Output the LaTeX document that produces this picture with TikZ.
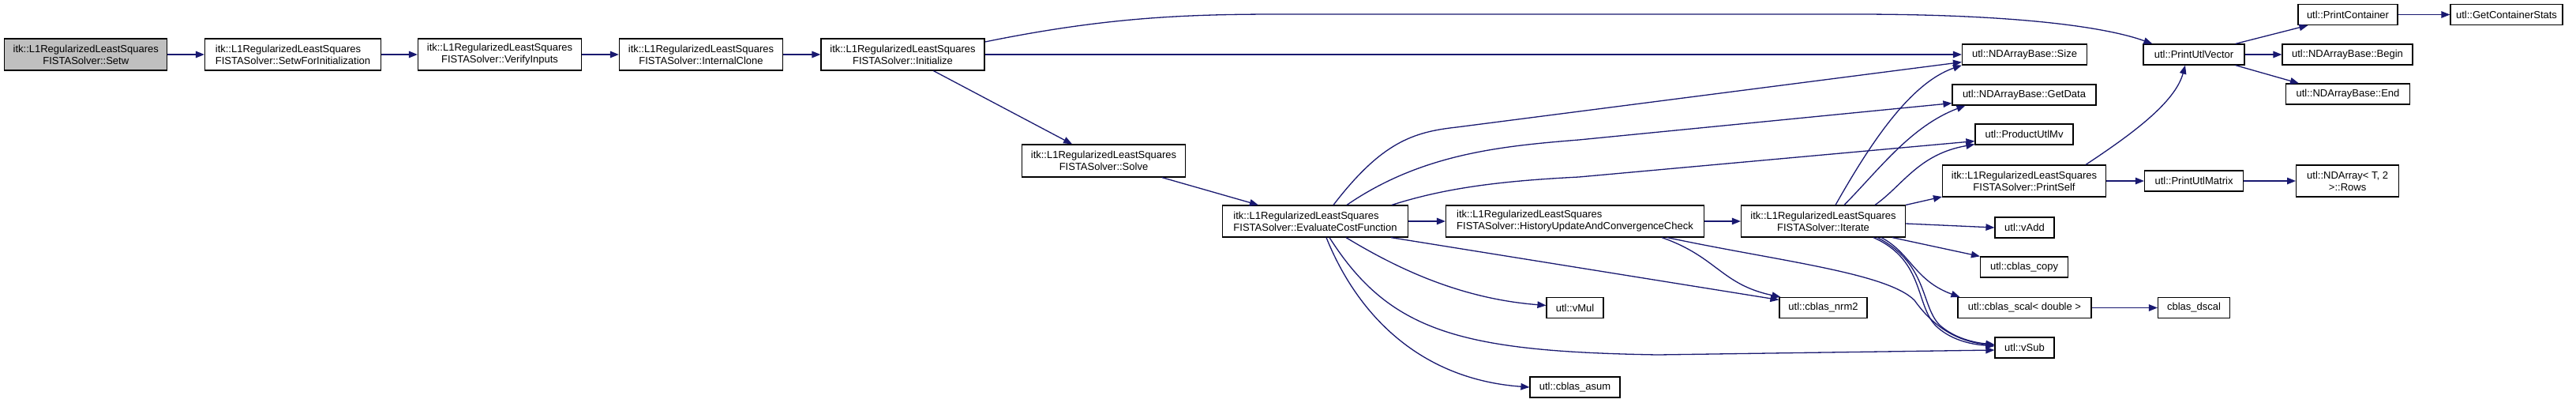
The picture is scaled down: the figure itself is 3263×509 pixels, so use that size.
\documentclass[tikz,border=0pt]{standalone}
\usepackage{fontspec}
\setmainfont{Liberation Sans}
\usetikzlibrary{arrows.meta}
\definecolor{edgeblue}{HTML}{191970}
\definecolor{startgray}{HTML}{BFBFBF}
\tikzset{
  fn/.style={draw=black, line width=1.2pt, fill=white, inner sep=0pt, align=center,
    font=\fontsize{13}{15}\selectfont, minimum height=26pt},
  fn2/.style={fn, minimum height=40pt},
  fnl/.style={fn2, align=left},
  call/.style={draw=edgeblue, line width=1.3pt, -{Triangle[length=11pt,width=8.5pt]}},
}
\begin{document}
\begin{tikzpicture}[x=1pt,y=-1pt]
\useasboundingbox (0,0) rectangle (3263,509);
% main chain
\node[fn2, fill=startgray, minimum width=206pt] (setw) at (108.8,69) {itk::L1RegularizedLeastSquares\\FISTASolver::Setw};
\node[fnl, minimum width=223pt] (sfi) at (371,69) {itk::L1RegularizedLeastSquares\\FISTASolver::SetwForInitialization};
\node[fn2, minimum width=207pt] (vi) at (633,69) {itk::L1RegularizedLeastSquares\\FISTASolver::VerifyInputs};
\node[fn2, minimum width=207pt] (ic) at (888,69) {itk::L1RegularizedLeastSquares\\FISTASolver::InternalClone};
\node[fn2, minimum width=207pt] (init) at (1143.5,69) {itk::L1RegularizedLeastSquares\\FISTASolver::Initialize};
\node[fn2, minimum width=207pt, minimum height=41pt] (solve) at (1398,203.5) {itk::L1RegularizedLeastSquares\\FISTASolver::Solve};
\node[fnl, minimum width=235pt] (ecf) at (1666,280) {itk::L1RegularizedLeastSquares\\FISTASolver::EvaluateCostFunction};
\node[fnl, minimum width=327pt] (huc) at (1995,280) {itk::L1RegularizedLeastSquares\\FISTASolver::HistoryUpdateAndConvergenceCheck};
\node[fn2, minimum width=208pt] (iter) at (2309.5,280) {itk::L1RegularizedLeastSquares\\FISTASolver::Iterate};
% column of utl calls
\node[fn, minimum width=158pt] (size) at (2564.5,69) {utl::NDArrayBase::Size};
\node[fn, minimum width=182pt] (getdata) at (2564,120) {utl::NDArrayBase::GetData};
\node[fn, minimum width=124pt] (pumv) at (2564,170) {utl::ProductUtlMv};
\node[fn2, minimum width=207pt] (printself) at (2564,229) {itk::L1RegularizedLeastSquares\\FISTASolver::PrintSelf};
\node[fn, minimum width=75pt] (vadd) at (2564.5,288) {utl::vAdd};
\node[fn, minimum width=111pt] (copy) at (2564,338) {utl::cblas\_copy};
\node[fn, minimum width=169pt] (scal) at (2564.5,389.5) {utl::cblas\_scal< double >};
\node[fn, minimum width=75pt] (vsub) at (2564.5,440) {utl::vSub};
\node[fn, minimum width=111pt] (nrm2) at (2309.5,389.5) {utl::cblas\_nrm2};
\node[fn, minimum width=72pt] (vmul) at (1995,389.5) {utl::vMul};
\node[fn, minimum width=114pt] (asum) at (1995,490) {utl::cblas\_asum};
\node[fn, minimum width=128pt] (puv) at (2779,69) {utl::PrintUtlVector};
\node[fn, minimum width=125pt] (pum) at (2779,229) {utl::PrintUtlMatrix};
\node[fn, minimum width=91pt] (dscal) at (2779,389.5) {cblas\_dscal};
\node[fn, minimum width=126pt] (pc) at (2974,18.5) {utl::PrintContainer};
\node[fn, minimum width=165pt] (begin) at (2973.5,69) {utl::NDArrayBase::Begin};
\node[fn, minimum width=157pt] (end) at (2974,119) {utl::NDArrayBase::End};
\node[fn2, minimum width=130pt] (rows) at (2973.6,229) {utl::NDArray< T, 2\\>::Rows};
\node[fn, minimum width=142pt] (gcs) at (3175,18.5) {utl::GetContainerStats};
% edges
\draw[call] (setw.east) -- (sfi.west);
\draw[call] (sfi.east) -- (vi.west);
\draw[call] (vi.east) -- (ic.west);
\draw[call] (ic.east) -- (init.west);
\draw[call] ([yshift=16pt]init.east) .. controls (1400,22) and (1500,18) .. (1620,18) -- (2350,18) .. controls (2560,18) and (2670,35) .. ([xshift=12pt]puv.north west);
\draw[call] (init.east) -- (size.west);
\draw[call] (init) -- (solve);
\draw[call] (solve) -- (ecf);
\draw[call] ([xshift=23pt]ecf.north) .. controls (1750,180) and (1790,167) .. (1845,161) -- ([yshift=4pt]size.south west);
\draw[call] ([xshift=40pt]ecf.north) .. controls (1800,195) and (1900,185) .. (2000,177) -- ([yshift=3pt]getdata.south west);
\draw[call] ([xshift=97pt]ecf.north) .. controls (1830,238) and (1900,229) .. (2000,224) -- ([yshift=5pt]pumv.south west);
\draw[call] (ecf.east) -- (huc.west);
\draw[call] ([xshift=39pt]ecf.south) .. controls (1770,340) and (1850,378) .. ([yshift=3pt]vmul.west);
\draw[call] ([xshift=96pt]ecf.south) -- ([yshift=10pt]nrm2.west);
\draw[call] ([xshift=18pt]ecf.south) .. controls (1760,420) and (1850,445) .. (2100,449) -- ([yshift=-3pt]vsub.west);
\draw[call] ([xshift=14pt]ecf.south) .. controls (1720,400) and (1800,480) .. (asum.west);
\draw[call] (huc.east) -- (iter.west);
\draw[call] ([xshift=110pt]huc.south) .. controls (2175,325) and (2180,360) .. ([xshift=2pt]nrm2.north west);
\draw[call] ([xshift=117pt]huc.south) .. controls (2250,330) and (2390,345) .. (2425,380) .. controls (2450,415) and (2480,432) .. ([yshift=3pt]vsub.west);
\draw[call] ([xshift=15.5pt]iter.north) .. controls (2370,180) and (2420,105) .. (size.south west);
\draw[call] ([xshift=26.5pt]iter.north) .. controls (2380,215) and (2420,160) .. ([xshift=17pt]getdata.south west);
\draw[call] ([xshift=65.5pt]iter.north) .. controls (2410,235) and (2430,195) .. ([yshift=1pt]pumv.south west);
\draw[call] (iter.north east) -- ([yshift=-20pt]printself.west);
\draw[call] ([yshift=-3pt]iter.east) -- (vadd.west);
\draw[call] ([xshift=87.5pt]iter.south) -- (copy.north west);
\draw[call] ([xshift=73.5pt]iter.south) .. controls (2420,320) and (2425,355) .. ([xshift=3pt]scal.north west);
\draw[call] ([xshift=63.5pt]iter.south) .. controls (2440,330) and (2425,390) .. (2455,415) .. controls (2475,432) and (2500,436) .. ([yshift=2pt]vsub.west);
\draw[call] ([xshift=68.5pt]iter.south) .. controls (2445,335) and (2432,392) .. (2460,414) .. controls (2480,430) and (2505,434) .. ([yshift=4pt]vsub.west);
\draw[call] ([xshift=78pt]printself.north) .. controls (2700,170) and (2755,130) .. ([xshift=-11pt]puv.south);
\draw[call] (printself.east) -- (pum.west);
\draw[call] (pum.east) -- (rows.west);
\draw[call] ([xshift=-12pt]puv.north east) -- ([xshift=13pt]pc.south west);
\draw[call] (puv.east) -- (begin.west);
\draw[call] ([xshift=-12pt]puv.south east) -- ([xshift=17pt]end.north west);
\draw[call] (pc.east) -- (gcs.west);
\draw[call] (scal.east) -- (dscal.west);
\end{tikzpicture}
\end{document}
